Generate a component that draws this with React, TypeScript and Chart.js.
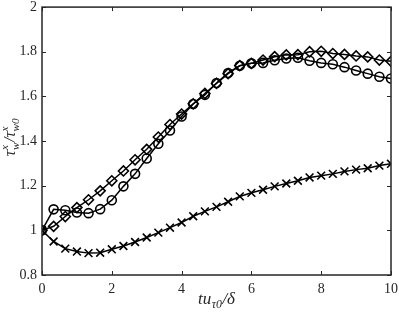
import React, { useEffect, useRef } from "react";
import { Chart, registerables } from "chart.js";

Chart.register(...registerables);

const xs = [0, 0.333, 0.667, 1, 1.333, 1.667, 2, 2.333, 2.667, 3, 3.333, 3.667, 4, 4.333, 4.667, 5, 5.333, 5.667, 6, 6.333, 6.667, 7, 7.333, 7.667, 8, 8.333, 8.667, 9, 9.333, 9.667, 10];

const crossVals = [1.0, 0.95, 0.918, 0.905, 0.898, 0.9, 0.915, 0.93, 0.948, 0.968, 0.99, 1.012, 1.035, 1.063, 1.085, 1.105, 1.128, 1.152, 1.168, 1.182, 1.197, 1.21, 1.222, 1.237, 1.245, 1.253, 1.264, 1.272, 1.278, 1.29, 1.298];

const diamondVals = [1.0, 1.018, 1.062, 1.102, 1.137, 1.177, 1.222, 1.266, 1.316, 1.363, 1.418, 1.474, 1.521, 1.567, 1.613, 1.658, 1.702, 1.738, 1.748, 1.763, 1.778, 1.786, 1.787, 1.8, 1.802, 1.792, 1.788, 1.781, 1.777, 1.763, 1.757];

const circleVals = [1.0, 1.094, 1.09, 1.08, 1.077, 1.095, 1.135, 1.197, 1.253, 1.322, 1.388, 1.447, 1.51, 1.566, 1.607, 1.66, 1.705, 1.737, 1.748, 1.75, 1.762, 1.77, 1.773, 1.76, 1.75, 1.744, 1.731, 1.716, 1.702, 1.688, 1.68];

const xTicks = [0, 2, 4, 6, 8, 10];
const xTickLabels = ["0", "2", "4", "6", "8", "10"];
const yTicks = [0.8, 1, 1.2, 1.4, 1.6, 1.8, 2];
const yTickLabels = ["0.8", "1", "1.2", "1.4", "1.6", "1.8", "2"];

const AXIS_COLOR = "#262626";
const SERIF = "'Liberation Serif', 'DejaVu Serif', serif";

type Seg = { t: string; sub?: string; sup?: string };

function drawMath(ctx: CanvasRenderingContext2D, segs: Seg[], cx: number, baseline: number, size: number) {
  const subSize = size * 0.7;
  const measure = (s: Seg) => {
    ctx.font = `italic ${size}px ${SERIF}`;
    const w = ctx.measureText(s.t).width;
    ctx.font = `italic ${subSize}px ${SERIF}`;
    const ws = s.sub ? ctx.measureText(s.sub).width : 0;
    const wp = s.sup ? ctx.measureText(s.sup).width : 0;
    return { w, extra: Math.max(ws, wp) };
  };
  let total = 0;
  const ms = segs.map((s) => {
    const m = measure(s);
    total += m.w + m.extra + (m.extra ? 1 : 0);
    return m;
  });
  let x = cx - total / 2;
  segs.forEach((s, i) => {
    ctx.font = `italic ${size}px ${SERIF}`;
    ctx.fillText(s.t, x, baseline);
    x += ms[i].w;
    ctx.font = `italic ${subSize}px ${SERIF}`;
    if (s.sub) ctx.fillText(s.sub, x + 0.5, baseline + size * 0.25);
    if (s.sup) ctx.fillText(s.sup, x + 0.5, baseline - size * 0.42);
    x += ms[i].extra + (ms[i].extra ? 1 : 0);
  });
}

const framePlugin = {
  id: "frame",
  afterDraw(chart: any) {
    const { ctx, chartArea } = chart;
    const { left, right, top, bottom } = chartArea;
    const xs_ = chart.scales.x;
    const ys_ = chart.scales.y;
    ctx.save();
    ctx.strokeStyle = AXIS_COLOR;
    ctx.lineWidth = 1;
    ctx.beginPath();
    const tl = 4;
    xTicks.forEach((v) => {
      const px = Math.round(xs_.getPixelForValue(v)) + 0.5;
      ctx.moveTo(px, bottom);
      ctx.lineTo(px, bottom - tl);
      ctx.moveTo(px, top);
      ctx.lineTo(px, top + tl);
    });
    yTicks.forEach((v) => {
      const py = Math.round(ys_.getPixelForValue(v)) + 0.5;
      ctx.moveTo(left, py);
      ctx.lineTo(left + tl, py);
      ctx.moveTo(right, py);
      ctx.lineTo(right - tl, py);
    });
    ctx.stroke();
    ctx.lineWidth = 1.5;
    ctx.strokeRect(left, top, right - left, bottom - top);

    ctx.fillStyle = AXIS_COLOR;
    ctx.textBaseline = "alphabetic";
    ctx.textAlign = "left";
    // x title
    drawMath(ctx, [{ t: "tu", sub: "τ0" }, { t: "/δ" }], (left + right) / 2, 304, 17);
    // y title
    ctx.save();
    ctx.translate(15, (top + bottom) / 2 - 4);
    ctx.rotate(-Math.PI / 2);
    drawMath(ctx, [{ t: "τ", sub: "w", sup: "x" }, { t: "/τ", sub: "w0", sup: "x" }], 0, 0, 16);
    ctx.restore();
    ctx.restore();
  },
};

function series(vals: number[], style: string, radius: number) {
  return {
    data: xs.map((x, i) => ({ x, y: vals[i] })),
    borderColor: "#000000",
    backgroundColor: "rgba(0,0,0,0)",
    borderWidth: 1.5,
    pointStyle: style,
    pointRadius: radius,
    pointBorderColor: "#000000",
    pointBackgroundColor: "rgba(0,0,0,0)",
    pointBorderWidth: 1.6,
    tension: 0,
    fill: false,
  };
}

export default function App() {
  const ref = useRef<HTMLCanvasElement>(null);
  useEffect(() => {
    document.body.style.margin = "0";
    const canvas = ref.current!;
    const chart = new Chart(canvas, {
      type: "line",
      data: {
        datasets: [
          series(crossVals, "crossRot", 5.5) as any,
          series(diamondVals, "rectRot", 5) as any,
          series(circleVals, "circle", 4.5) as any,
        ],
      },
      options: {
        animation: false,
        responsive: false,
        devicePixelRatio: 1,
        layout: { padding: { top: 5, right: 8, left: 0, bottom: 0 } },
        plugins: { legend: { display: false }, tooltip: { enabled: false } },
        scales: {
          x: {
            type: "linear",
            min: 0,
            max: 10,
            grid: { display: false, drawTicks: false },
            border: { display: false },
            afterBuildTicks: (s: any) => {
              s.ticks = xTicks.map((v) => ({ value: v }));
            },
            afterFit: (s: any) => {
              s.height = 40;
              s.paddingLeft = 0;
              s.paddingRight = 0;
              s.paddingTop = 0;
              s.paddingBottom = 0;
            },
            ticks: {
              color: AXIS_COLOR,
              font: { family: SERIF, size: 14 },
              padding: 6,
              maxRotation: 0,
              callback: (_v: any, i: number) => xTickLabels[i],
            },
          },
          y: {
            type: "linear",
            min: 0.8,
            max: 2,
            grid: { display: false, drawTicks: false },
            border: { display: false },
            afterBuildTicks: (s: any) => {
              s.ticks = yTicks.map((v) => ({ value: v }));
            },
            afterFit: (s: any) => {
              s.width = 42;
              s.paddingLeft = 0;
              s.paddingRight = 0;
              s.paddingTop = 0;
              s.paddingBottom = 0;
            },
            ticks: {
              color: AXIS_COLOR,
              font: { family: SERIF, size: 14 },
              padding: 5,
              callback: (_v: any, i: number) => yTickLabels[i],
            },
          },
        },
      },
      plugins: [framePlugin],
    });
    return () => chart.destroy();
  }, []);
  return (
    <div style={{ width: 399, height: 315 }}>
      <canvas ref={ref} width={399} height={315} style={{ display: "block" }} />
    </div>
  );
}
